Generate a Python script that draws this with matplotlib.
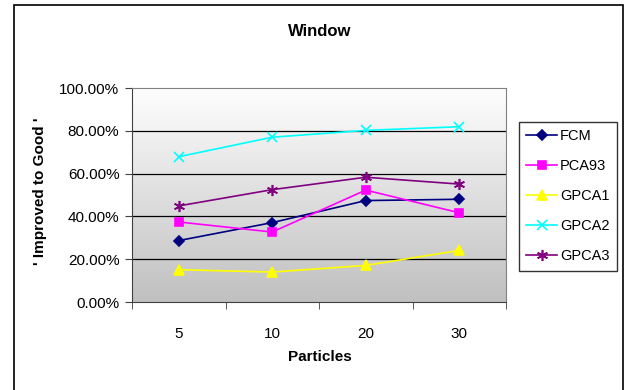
import numpy as np
import matplotlib.pyplot as plt
from matplotlib.colors import LinearSegmentedColormap
from matplotlib.patches import Rectangle

plt.rcParams['font.family'] = ['Liberation Sans', 'DejaVu Sans']

# data
particles = ['5', '10', '20', '30']
fcm = [28.7, 37.1, 47.4, 48.0]
pca93 = [37.4, 32.7, 52.3, 41.7]
gpca1 = [15.1, 14.0, 17.1, 24.1]
gpca2 = [67.9, 77.0, 80.2, 81.9]
gpca3 = [44.9, 52.5, 58.3, 55.1]
series_names = ['FCM', 'PCA93', 'GPCA1', 'GPCA2', 'GPCA3']
y_ticks = [0, 20, 40, 60, 80, 100]

W, H = 624, 390
fig = plt.figure(figsize=(W / 100, H / 100), dpi=100)

# outer chart border
fig.patches.append(Rectangle((14 / W, -0.05), (623 - 14) / W, 1.05 - 5 / H,
                             transform=fig.transFigure, fill=False,
                             edgecolor='black', linewidth=1.2))

left, right, top, bottom = 132, 506, 88, 302
ax = fig.add_axes([left / W, 1 - bottom / H, (right - left) / W, (bottom - top) / H])

# gray gradient plot area
cmap = LinearSegmentedColormap.from_list('bg', ['#c0c0c0', '#fefefe'])
grad = np.linspace(0, 1, 256).reshape(-1, 1)
ax.imshow(grad, extent=[0, 1, 0, 1], transform=ax.transAxes, aspect='auto',
          cmap=cmap, origin='lower', zorder=0)

x = np.arange(len(particles))
styles = [
    (fcm, '#000080', 'D', 5),
    (pca93, '#ff00ff', 's', 6),
    (gpca1, '#ffff00', '^', 7),
    (gpca2, '#00ffff', 'x', 7),
    (gpca3, '#800080', (6, 2, 0), 8),
]
for (vals, col, mk, ms), name in zip(styles, series_names):
    ax.plot(x, vals, color=col, marker=mk, markersize=ms, linewidth=1.2,
            markeredgewidth=1.2, label=name, zorder=3)

ax.set_xlim(-0.5, len(particles) - 0.5)
ax.set_ylim(0, 100)
ax.set_yticks(y_ticks)
ax.set_yticklabels([f'{v:.2f}%' for v in y_ticks], fontsize=11)
for v in y_ticks[1:-1]:
    ax.axhline(v, color='black', linewidth=0.9, zorder=1)

ax.set_xticks(x)
ax.set_xticklabels(particles, fontsize=11)
ax.set_xticks(np.arange(-0.5, len(particles)), minor=True)
ax.tick_params(axis='x', which='major', length=0, pad=18)
ax.tick_params(axis='x', which='minor', length=5, direction='out', color='#404040')
ax.tick_params(axis='y', length=5, direction='out', color='#404040', pad=4)

for side in ['top', 'right']:
    ax.spines[side].set_color('#808080')
for side in ['left', 'bottom']:
    ax.spines[side].set_color('#404040')

fig.text(320 / W, 1 - 32 / H, 'Window', fontsize=12, fontweight='bold',
         ha='center', va='center')
fig.text(320 / W, 1 - 357 / H, 'Particles', fontsize=11, fontweight='bold',
         ha='center', va='center')
fig.text(40 / W, 1 - 191 / H, "' Improved to Good '", fontsize=11,
         fontweight='bold', rotation=90, ha='center', va='center')

leg = fig.legend(loc='upper left', bbox_to_anchor=(519 / W, 1 - 122 / H),
                 fontsize=10.5, frameon=True, fancybox=False, borderaxespad=0,
                 handlelength=2.1, labelspacing=1.1, handletextpad=0.2,
                 borderpad=0.5)
leg.get_frame().set_edgecolor('black')
leg.get_frame().set_linewidth(1.0)

fig.savefig('out.png', dpi=100)
